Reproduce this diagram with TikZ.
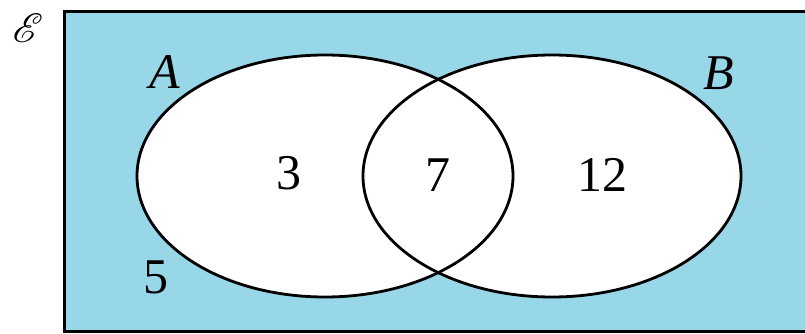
\documentclass[tikz,border=0pt]{standalone}
\usepackage{fontspec}
\usepackage{mathrsfs}
\setmainfont{Liberation Serif}
\definecolor{univ}{RGB}{151,215,232}
\begin{document}
\begin{tikzpicture}[x=1pt,y=-1pt,
  lab/.style={inner sep=0pt,font=\fontsize{50}{60}\selectfont},
  setline/.style={line width=2.8pt,draw=black}]
\useasboundingbox (0,0) rectangle (805,334);
\path[fill=univ,draw=black,line width=3pt] (64,12) rectangle (830,331);
\fill[white] (325,176) ellipse [x radius=188,y radius=121];
\fill[white] (552,176) ellipse [x radius=189,y radius=121];
\draw[setline] (325,176) ellipse [x radius=188,y radius=121];
\draw[setline] (552,176) ellipse [x radius=189,y radius=121];
\node[inner sep=0pt,font=\normalsize] (E) at (28,28) {\scalebox{4.1}{$\mathscr{E}$}};
\node[lab] (A) at (165,72) {\itshape A};
\node[lab] (B) at (719,73) {\itshape B};
\node[lab] (n3) at (289,173) {3};
\node[lab] (n7) at (438,175) {7};
\node[lab] (n12) at (602,175) {12};
\node[lab] (n5) at (156,277) {5};
\end{tikzpicture}
\end{document}
